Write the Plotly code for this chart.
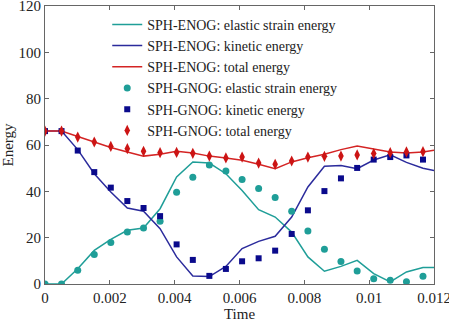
import plotly.graph_objects as go

# Time samples (markers)
t_pts = [0, 0.00051, 0.00101, 0.00152, 0.00203, 0.00254, 0.00304, 0.00355,
         0.00406, 0.00456, 0.00507, 0.00558, 0.00608, 0.00659, 0.0071, 0.00761,
         0.00811, 0.00862, 0.00913, 0.00963, 0.01014, 0.01065, 0.01115, 0.01166]
# Time samples for the lines (same grid, ending at the axis end)
t_line = t_pts + [0.012]

# SPH-ENOG (lines)
enog_elastic = [0, 0, 6.6, 14.5, 19.3, 23.2, 24.2, 32.5, 46.2, 52.7, 52.2, 47.6,
                40.4, 32.1, 28.9, 22.4, 11.7, 5.5, 7.6, 10.2, 4.5, 0.9, 5.2, 7.1, 7.1]
enog_kinetic = [66.0, 66.0, 58.0, 47.6, 39.7, 32.8, 31.4, 23.9, 11.7, 3.5, 3.2, 7.6,
                15.3, 18.4, 20.6, 28.9, 41.9, 50.8, 51.2, 49.8, 53.5, 55.8, 52.5, 50.0, 49.0]
enog_total = [66.0, 66.0, 63.7, 61.3, 58.9, 57.0, 55.2, 56.0, 57.3, 56.5, 55.2, 54.4,
              53.4, 51.7, 49.8, 52.7, 54.5, 56.0, 58.0, 59.6, 58.4, 57.0, 56.5, 57.0, 57.7]

# SPH-GNOG (markers)
gnog_elastic = [0, 0, 5.9, 12.7, 17.9, 22.4, 24.2, 27.1, 39.6, 46.1, 51.4, 48.8,
                45.1, 41.2, 37.3, 31.4, 22.9, 15.0, 9.7, 5.6, 2.3, 1.6, 1.0, 3.3]
gnog_kinetic = [66.0, 66.0, 57.6, 48.3, 41.6, 35.8, 32.8, 29.3, 17.1, 10.4, 3.5, 6.5,
                9.8, 11.1, 14.4, 21.6, 31.8, 40.1, 45.6, 50.1, 53.7, 54.8, 55.5, 53.7]
gnog_total = [66.0, 66.0, 63.4, 61.3, 59.4, 58.4, 57.3, 56.7, 56.8, 56.4, 55.2, 54.4,
              54.8, 52.2, 51.7, 53.1, 54.8, 55.1, 55.2, 55.7, 56.3, 56.7, 57.0, 57.1]

x_ticks = [0, 0.002, 0.004, 0.006, 0.008, 0.01, 0.012]
x_tick_labels = ["0", "0.002", "0.004", "0.006", "0.008", "0.01", "0.012"]
y_ticks = [0, 20, 40, 60, 80, 100, 120]

TEAL = "#1f9e98"
NAVY_LINE = "#2b2b9c"
NAVY = "#0a0a8c"
RED = "#d42424"
FONT = "Liberation Serif, Times New Roman, serif"

fig = go.Figure()
fig.add_trace(go.Scatter(x=t_line, y=enog_elastic, mode="lines",
                         line=dict(color=TEAL, width=1.5),
                         name="SPH-ENOG: elastic strain energy"))
fig.add_trace(go.Scatter(x=t_line, y=enog_kinetic, mode="lines",
                         line=dict(color=NAVY_LINE, width=1.5),
                         name="SPH-ENOG: kinetic energy"))
fig.add_trace(go.Scatter(x=t_line, y=enog_total, mode="lines",
                         line=dict(color=RED, width=1.5),
                         name="SPH-ENOG: total energy"))
fig.add_trace(go.Scatter(x=t_pts, y=gnog_elastic, mode="markers",
                         marker=dict(color=TEAL, size=7, symbol="circle"),
                         name="SPH-GNOG: elastic strain energy"))
fig.add_trace(go.Scatter(x=t_pts, y=gnog_kinetic, mode="markers",
                         marker=dict(color=NAVY, size=6, symbol="square"),
                         name="SPH-GNOG: kinetic energy"))
fig.add_trace(go.Scatter(x=t_pts, y=gnog_total, mode="markers",
                         marker=dict(color="#cc1414", size=8, symbol="diamond-tall"),
                         name="SPH-GNOG: total energy"))

axis_common = dict(
    showline=True, linecolor="#666666", linewidth=1, mirror="ticks",
    ticks="inside", ticklen=4, tickcolor="#666666", showgrid=False,
    zeroline=False, ticklabeloverflow="allow",
    tickfont=dict(family=FONT, size=15, color="#222222"),
)

fig.update_layout(
    width=449, height=322,
    margin=dict(l=45, r=15, t=6, b=38, autoexpand=False),
    paper_bgcolor="white", plot_bgcolor="white",
    font=dict(family=FONT, size=15, color="#222222"),
    showlegend=True,
    legend=dict(x=0.16, y=0.99, xanchor="left", yanchor="top",
                bgcolor="rgba(0,0,0,0)", font=dict(family=FONT, size=14),
                tracegroupgap=0, itemwidth=30),
    xaxis=dict(range=[0, 0.012], tickvals=x_ticks, ticktext=x_tick_labels,
               title=dict(text="Time", font=dict(family=FONT, size=15), standoff=2),
               **axis_common),
    yaxis=dict(range=[0, 120], tickvals=y_ticks,
               title=dict(text="Energy", font=dict(family=FONT, size=15), standoff=4),
               **axis_common),
)

fig.write_html("out.html",
               config={"displayModeBar": False},
               post_script="document.body.style.margin='0';document.body.style.padding='0';")
